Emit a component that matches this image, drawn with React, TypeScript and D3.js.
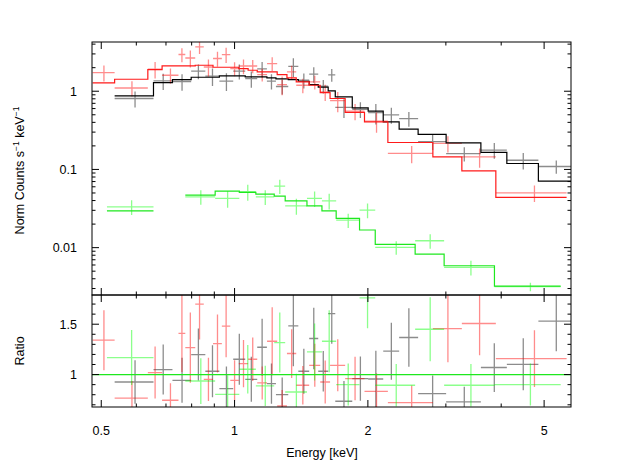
import { useEffect, useRef } from 'react';
import * as d3 from 'd3';

// bins: [E low, E high] in keV
const blackEnergy = [
  [0.536, 0.656], [0.656, 0.724], [0.724, 0.798], [0.798, 0.859], [0.859, 0.924],
  [0.924, 0.993], [0.993, 1.057], [1.057, 1.125], [1.125, 1.183], [1.183, 1.24],
  [1.24, 1.322], [1.322, 1.393], [1.393, 1.474], [1.474, 1.545], [1.545, 1.627],
  [1.627, 1.688], [1.688, 1.844], [1.844, 2.003], [2.003, 2.166], [2.166, 2.353],
  [2.353, 2.597], [2.597, 3.004], [3.004, 3.599], [3.599, 4.119], [4.119, 4.853],
  [4.853, 5.8],
];
const blackModel = [
  0.871, 1.291, 1.411, 1.509, 1.509, 1.568, 1.568, 1.522, 1.522, 1.479, 1.436, 1.403, 1.342,
  1.218, 1.125, 1.009, 0.846, 0.612, 0.555, 0.405, 0.327, 0.28, 0.219, 0.165, 0.119, 0.071,
];
// [value, error]
const blackCounts = [
  [0.807, 0.187], [1.356, 0.321], [1.331, 0.316], [1.809, 0.389], [1.559, 0.389],
  [1.35, 0.345], [1.806, 0.397], [1.45, 0.341], [1.934, 0.431], [1.347, 0.296],
  [1.15, 0.244], [2.081, 0.561], [1.386, 0.301], [1.654, 0.373], [1.162, 0.225],
  [1.62, 0.303], [0.622, 0.169], [0.588, 0.135], [0.531, 0.155], [0.499, 0.115],
  [0.447, 0.095], [0.227, 0.05], [0.159, 0.033], [0.177, 0.04], [0.131, 0.031],
  [0.109, 0.021],
];
const blackRatio = [
  [0.926, 0.215], [1.05, 0.249], [0.943, 0.224], [1.199, 0.258], [1.033, 0.258],
  [0.861, 0.22], [1.152, 0.253], [0.953, 0.224], [1.271, 0.283], [0.911, 0.2],
  [0.801, 0.17], [1.483, 0.4], [1.033, 0.224], [1.358, 0.306], [1.033, 0.2],
  [1.606, 0.3], [0.735, 0.2], [0.96, 0.22], [0.956, 0.28], [1.232, 0.283],
  [1.368, 0.29], [0.811, 0.18], [0.728, 0.15], [1.07, 0.242], [1.102, 0.258],
  [1.53, 0.298],
];

const redEnergy = [
  [0.478, 0.536], [0.536, 0.637], [0.637, 0.686], [0.686, 0.747], [0.747, 0.774],
  [0.774, 0.815], [0.815, 0.852], [0.852, 0.894], [0.894, 0.936], [0.936, 0.978],
  [0.978, 1.022], [1.022, 1.073], [1.073, 1.125], [1.125, 1.184], [1.184, 1.248],
  [1.248, 1.313], [1.313, 1.378], [1.378, 1.474], [1.474, 1.561], [1.561, 1.643],
  [1.643, 1.777], [1.777, 1.965], [1.965, 2.219], [2.219, 2.804], [2.804, 3.26],
  [3.26, 3.89], [3.89, 5.62],
];
const redModel = [
  1.276, 1.423, 1.893, 2.104, 2.104, 2.104, 2.148, 2.148, 2.025, 2.025, 2.025, 1.95, 1.854,
  1.764, 1.764, 1.634, 1.479, 1.315, 1.193, 0.96, 0.807, 0.535, 0.405, 0.221, 0.145, 0.096,
  0.0439,
];
const redCounts = [
  [1.733, 0.4], [1.1, 0.245], [1.91, 0.46], [1.6, 0.35], [2.95, 0.6], [2.66, 0.65],
  [3.68, 0.69], [2.04, 0.5], [2.62, 0.57], [2.94, 0.65], [1.95, 0.4], [2.1, 0.45],
  [2.1, 0.4], [1.634, 0.3], [2.26, 0.45], [1.218, 0.33], [1.764, 0.36], [1.193, 0.25],
  [1.315, 0.26], [0.98, 0.23], [0.76, 0.22], [0.555, 0.13], [0.414, 0.12], [0.16, 0.04],
  [0.215, 0.05], [0.145, 0.04], [0.0502, 0.012],
];
const redRatio = [
  [1.341, 0.298], [0.767, 0.17], [1.02, 0.258], [0.745, 0.17], [1.408, 0.383],
  [1.268, 0.348], [1.699, 0.35], [0.953, 0.215], [1.308, 0.288], [1.48, 0.308],
  [0.943, 0.2], [1.109, 0.234], [1.152, 0.217], [0.917, 0.164], [1.331, 0.338],
  [0.688, 0.16], [1.209, 0.242], [0.894, 0.19], [1.092, 0.214], [0.926, 0.214],
  [1.092, 0.258], [0.96, 0.216], [0.834, 0.18], [0.722, 0.17], [1.457, 0.335],
  [1.507, 0.315], [1.159, 0.282],
];

const greenEnergy = [
  [0.515, 0.656], [0.774, 0.904], [0.904, 1.025], [1.025, 1.117], [1.117, 1.229],
  [1.229, 1.301], [1.301, 1.457], [1.457, 1.575], [1.575, 1.696], [1.696, 1.915],
  [1.915, 2.078], [2.078, 2.557], [2.557, 2.973], [2.973, 3.862], [3.862, 5.45],
];
const greenModel = [
  0.0296, 0.047, 0.0528, 0.0508, 0.0484, 0.0456, 0.0397, 0.0343, 0.0296, 0.0237, 0.0168,
  0.011, 0.00828, 0.00587, 0.00323,
];
const greenCounts = [
  [0.0333, 0.0072], [0.0447, 0.0093], [0.0426, 0.0103], [0.0518, 0.012], [0.0447, 0.0095],
  [0.0612, 0.0128], [0.0343, 0.0079], [0.0426, 0.0095], [0.0397, 0.009], [0.0225, 0.0047],
  [0.0302, 0.0065], [0.0101, 0.002], [0.01225, 0.0026], [0.0056, 0.0012], [0.00317, 0.0004],
];
const greenRatio = [
  [1.169, 0.273], [0.936, 0.227], [0.804, 0.19], [1.053, 0.24], [0.887, 0.2],
  [1.318, 0.298], [0.827, 0.18], [1.225, 0.283], [1.331, 0.308], [0.901, 0.209],
  [1.761, 0.3], [0.894, 0.21], [1.45, 0.318], [0.894, 0.21], [0.901, 0.209],
];

const xMajor = [0.5, 1, 2, 5];
const xMajorLabels = ['0.5', '1', '2', '5'];
const xMinor = [0.6, 0.7, 0.8, 0.9, 3, 4];
const yTopMajor = [0.01, 0.1, 1];
const yTopLabels = ['0.01', '0.1', '1'];
const yTopMinor = [
  0.003, 0.004, 0.005, 0.006, 0.007, 0.008, 0.009, 0.02, 0.03, 0.04, 0.05, 0.06, 0.07, 0.08,
  0.09, 0.2, 0.3, 0.4, 0.5, 0.6, 0.7, 0.8, 0.9, 2, 3, 4,
];
const yRatioMajor = [1, 1.5];
const yRatioLabels = ['1', '1.5'];
const yRatioMinor = [0.7, 0.8, 0.9, 1.1, 1.2, 1.3, 1.4, 1.6, 1.7];

const datasets = [
  { energy: blackEnergy, model: blackModel, counts: blackCounts, ratio: blackRatio, data: '#000', line: '#000' },
  { energy: redEnergy, model: redModel, counts: redCounts, ratio: redRatio, data: '#ff0000', line: '#ff1a1a' },
  { energy: greenEnergy, model: greenModel, counts: greenCounts, ratio: greenRatio, data: '#00ff00', line: '#1ee81e' },
];

export default function App() {
  const svgRef = useRef<SVGSVGElement>(null);

  useEffect(() => {
    if (!svgRef.current) return;
    const svg = d3.select(svgRef.current);
    svg.selectAll('*').remove();

    const left = 92;
    const right = 571;
    const top = 42;
    const mid = 295;
    const bottom = 407;
    const font = '"Liberation Sans", Arial, Helvetica, sans-serif';

    const x = d3.scaleLog().domain([0.4765, 5.75]).range([left, right]);
    const yTop = d3.scaleLog().domain([0.00248, 4.26]).range([mid, top]);
    const yRatio = d3.scaleLinear().domain([0.678, 1.79]).range([bottom, mid]);

    svg.append('rect').attr('width', 630).attr('height', 469).attr('fill', '#fff');

    const defs = svg.append('defs');
    defs.append('clipPath').attr('id', 'clip-top')
      .append('rect').attr('x', left).attr('y', top).attr('width', right - left).attr('height', mid - top);
    defs.append('clipPath').attr('id', 'clip-ratio')
      .append('rect').attr('x', left).attr('y', mid).attr('width', right - left).attr('height', bottom - mid);

    const gTop = svg.append('g').attr('clip-path', 'url(#clip-top)');
    const gRatio = svg.append('g').attr('clip-path', 'url(#clip-ratio)');

    const crosses = (g: any, energy: number[][], vals: number[][], y: any, color: string) => {
      g.append('g')
        .selectAll('path')
        .data(energy.map((e, i) => ({ lo: e[0], hi: e[1], v: vals[i][0], err: vals[i][1] })))
        .enter()
        .append('path')
        .attr('fill', 'none')
        .attr('stroke', color)
        .attr('stroke-opacity', 0.45)
        .attr('stroke-width', 1.3)
        .attr('d', (d: any) => {
          const xm = x((d.lo + d.hi) / 2);
          const lowV = Math.max(d.v - d.err, 1e-6);
          return `M${x(d.lo)},${y(d.v)}H${x(d.hi)}M${xm},${y(lowV)}V${y(d.v + d.err)}`;
        });
    };

    // data first
    datasets.forEach((ds) => crosses(gTop, ds.energy, ds.counts, yTop, ds.data));

    // model steps
    datasets.forEach((ds) => {
      const p = d3.path();
      ds.energy.forEach((e, i) => {
        const yy = yTop(ds.model[i]);
        if (i === 0 || Math.abs(ds.energy[i - 1][1] - e[0]) > 1e-6) p.moveTo(x(e[0]), yy);
        else p.lineTo(x(e[0]), yy);
        p.lineTo(x(e[1]), yy);
      });
      gTop.append('path')
        .attr('d', p.toString())
        .attr('fill', 'none')
        .attr('stroke', ds.line)
        .attr('stroke-width', 1.2);
    });

    // ratio panel
    datasets.forEach((ds) => crosses(gRatio, ds.energy, ds.ratio, yRatio, ds.data));
    gRatio.append('line')
      .attr('x1', left).attr('x2', right)
      .attr('y1', yRatio(1)).attr('y2', yRatio(1))
      .attr('stroke', '#1ee81e')
      .attr('stroke-width', 1.2);

    // frames
    [[top, mid], [mid, bottom]].forEach(([t, b]) => {
      svg.append('rect')
        .attr('x', left).attr('y', t)
        .attr('width', right - left).attr('height', b - t)
        .attr('fill', 'none').attr('stroke', '#000').attr('stroke-width', 1);
    });

    const tickG = svg.append('g').attr('stroke', '#000').attr('stroke-width', 1);
    const major = 7;
    const minor = 3.5;

    // x ticks on every horizontal edge, pointing inward
    const xEdges: [number, number][] = [[top, 1], [mid, -1], [mid, 1], [bottom, -1]];
    xEdges.forEach(([yy, dir]) => {
      xMajor.forEach((v) => tickG.append('line')
        .attr('x1', x(v)).attr('x2', x(v)).attr('y1', yy).attr('y2', yy + dir * major));
      xMinor.forEach((v) => tickG.append('line')
        .attr('x1', x(v)).attr('x2', x(v)).attr('y1', yy).attr('y2', yy + dir * minor));
    });

    const yTicks = (scale: any, majors: number[], minors: number[]) => {
      [[left, 1], [right, -1]].forEach(([xx, dir]) => {
        majors.forEach((v) => tickG.append('line')
          .attr('y1', scale(v)).attr('y2', scale(v)).attr('x1', xx).attr('x2', xx + dir * major));
        minors.forEach((v) => tickG.append('line')
          .attr('y1', scale(v)).attr('y2', scale(v)).attr('x1', xx).attr('x2', xx + dir * minor));
      });
    };
    yTicks(yTop, yTopMajor, yTopMinor);
    yTicks(yRatio, yRatioMajor, yRatioMinor);

    const labels = svg.append('g').attr('font-family', font).attr('font-size', 12.5).attr('fill', '#000');

    xMajor.forEach((v, i) => labels.append('text')
      .attr('x', x(v)).attr('y', 434.5)
      .attr('text-anchor', 'middle')
      .text(xMajorLabels[i]));

    yTopMajor.forEach((v, i) => labels.append('text')
      .attr('x', left - 15).attr('y', yTop(v)).attr('dy', '0.36em')
      .attr('text-anchor', 'end')
      .text(yTopLabels[i]));

    yRatioMajor.forEach((v, i) => labels.append('text')
      .attr('x', left - 15).attr('y', yRatio(v)).attr('dy', '0.36em')
      .attr('text-anchor', 'end')
      .text(yRatioLabels[i]));

    labels.append('text')
      .attr('x', 322).attr('y', 457)
      .attr('text-anchor', 'middle')
      .text('Energy [keV]');

    const yl = labels.append('text')
      .attr('transform', `translate(24,${(top + mid) / 2 + 2}) rotate(-90)`)
      .attr('text-anchor', 'middle');
    yl.append('tspan').text('Norm Counts s');
    yl.append('tspan').attr('dy', -5).attr('font-size', 8.5).text('−1');
    yl.append('tspan').attr('dy', 5).text(' keV');
    yl.append('tspan').attr('dy', -5).attr('font-size', 8.5).text('−1');

    labels.append('text')
      .attr('transform', `translate(24,${(mid + bottom) / 2}) rotate(-90)`)
      .attr('text-anchor', 'middle')
      .text('Ratio');
  }, []);

  return (
    <svg
      ref={svgRef}
      width={630}
      height={469}
      style={{ position: 'absolute', left: 0, top: 0 }}
    />
  );
}
